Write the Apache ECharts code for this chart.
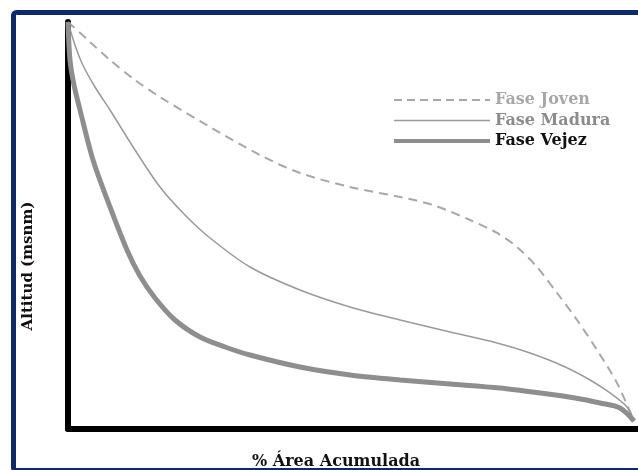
<!DOCTYPE html>
<html>
<head>
<meta charset="utf-8">
<script src="https://cdn.jsdelivr.net/npm/echarts@6/dist/echarts.min.js"></script>
<style>
html,body{margin:0;padding:0;background:#fff;}
#chart{width:638px;height:470px;}
</style>
</head>
<body>
<div id="chart"></div>
<script>
// Series names
var seriesNames = ['Fase Joven', 'Fase Madura', 'Fase Vejez'];
// Each series: [ % área acumulada, altitud relativa ]
var faseJoven = [
  [0,100],[3.89,95.09],[7.42,90.66],[11.84,85.75],[16.25,81.57],[25.09,74.20],
  [33.92,67.32],[40.99,62.90],[49.82,59.46],[58.66,57.00],[64.49,55.04],
  [71.02,51.35],[75.80,48.16],[79.33,44.72],[82.86,39.80],[86.40,33.42],
  [89.93,26.78],[93.46,19.41],[96.99,11.30],[100,1.97]
];
var faseMadura = [
  [0,100],[1.2,94.5],[2.6,89.5],[4.77,84.03],[7.42,78.38],[11.84,68.55],
  [16.25,59.46],[20.67,52.58],[25.09,46.93],[32.16,39.80],[40.99,34.15],
  [49.82,29.98],[58.66,26.78],[67.49,23.83],[75.80,21.13],[81.63,18.67],
  [87.46,15.48],[92.23,12.04],[95.76,8.85],[98.76,5.41],[100,1.97]
];
var faseVejez = [
  [0,100],[0.35,90.66],[1.06,84.52],[2.12,78.38],[4.42,66.09],[7.42,54.55],
  [10.42,43.98],[12.72,37.59],[15.37,32.19],[18.90,26.78],[23.32,22.60],
  [27.74,20.15],[32.16,18.18],[40.99,15.23],[49.82,13.27],[58.66,12.04],
  [67.49,11.06],[76.33,10.07],[83.39,8.85],[89.58,7.62],[94.00,6.39],
  [97.53,5.16],[100,1.97]
];
var xTitle = '% Área Acumulada';
var yTitle = 'Altitud (msnm)';

var serif = '"DejaVu Serif", "Liberation Serif", serif';
var chart = echarts.init(document.getElementById('chart'), null, {renderer:'canvas'});
chart.setOption({
  backgroundColor: '#ffffff',
  animation: false,
  grid: {left: 68, right: 0, top: 22, bottom: 41, containLabel: false},
  xAxis: {
    type: 'value', min: 0, max: 100.7,
    axisLine: {show: true, lineStyle: {color: '#000', width: 6}},
    axisTick: {show: false}, axisLabel: {show: false}, splitLine: {show: false}
  },
  yAxis: {
    type: 'value', min: 0, max: 100,
    axisLine: {show: true, lineStyle: {color: '#000', width: 6, cap: 'round'}},
    axisTick: {show: false}, axisLabel: {show: false}, splitLine: {show: false}
  },
  legend: {
    orient: 'vertical', left: 392, top: 91, padding: 0,
    itemWidth: 96, itemHeight: 18, itemGap: 2.5,
    itemStyle: {opacity: 0},
    textStyle: {fontFamily: serif, fontWeight: 'bold', fontSize: 16, lineHeight: 18},
    data: [
      {name: seriesNames[0], textStyle: {color: '#a8a8a8'},
       lineStyle: {width: 2, type: [8, 5], color: '#a8a8a8', opacity: 1}},
      {name: seriesNames[1], textStyle: {color: '#8c8c8c'},
       lineStyle: {width: 1.5, color: '#9a9a9a', opacity: 1}},
      {name: seriesNames[2], textStyle: {color: '#111111'},
       lineStyle: {width: 4, color: '#8e8e8e', opacity: 1}}
    ]
  },
  series: [
    {name: seriesNames[0], type: 'line', data: faseJoven, symbol: 'none',
     smooth: 0.3,
     lineStyle: {color: '#a8a8a8', width: 2, type: [9, 6]}, itemStyle: {color: '#a8a8a8'}},
    {name: seriesNames[1], type: 'line', data: faseMadura, symbol: 'none',
     smooth: 0.3,
     lineStyle: {color: '#9a9a9a', width: 1.5}, itemStyle: {color: '#9a9a9a'}},
    {name: seriesNames[2], type: 'line', data: faseVejez, symbol: 'none',
     smooth: 0.3,
     lineStyle: {color: '#8e8e8e', width: 5}, itemStyle: {color: '#8e8e8e'}}
  ],
  graphic: [
    {type: 'rect', z: 100, silent: true,
     shape: {x: 13.5, y: 12.5, width: 800, height: 458, r: 3},
     style: {fill: null, stroke: '#0c2a6c', lineWidth: 5}},
    {type: 'text', z: 100, left: 252, top: 454,
     style: {text: xTitle, font: 'bold 16px ' + serif, fill: '#111'}},
    {type: 'text', z: 100, x: 28, y: 266, rotation: Math.PI / 2,
     style: {text: yTitle, font: 'bold 15px ' + serif, fill: '#111',
             textAlign: 'center', textVerticalAlign: 'middle'}}
  ]
});
</script>
</body>
</html>
